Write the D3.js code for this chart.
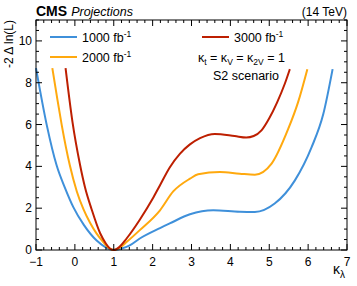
<!DOCTYPE html>
<html>
<head>
<meta charset="utf-8">
<script src="https://cdn.jsdelivr.net/npm/d3@7"></script>
<style>
  body { margin: 0; background: #fff; }
  svg { font-family: "Liberation Sans", Arial, sans-serif; }
</style>
</head>
<body>
<div id="chart"></div>
<script>
// kappa_lambda likelihood scan, HL-LHC projections (S2 scenario)

const kl1000 = [-1.0, -0.72, -0.47, -0.25, -0.04, 0.23, 0.56, 0.8, 1.0, 1.2, 1.41, 1.67, 2.19, 2.44, 2.96, 3.56, 4.24, 4.63, 5.14, 5.66, 6.09, 6.39, 6.63];
const nll1000 = [8.7, 5.95, 4.05, 2.95, 2.05, 1.2, 0.45, 0.12, 0, 0.07, 0.22, 0.55, 1.05, 1.27, 1.71, 1.9, 1.83, 1.82, 2.22, 3.33, 4.92, 6.5, 8.65];

const kl2000 = [-0.58, -0.45, -0.34, -0.13, 0.05, 0.22, 0.39, 0.56, 0.73, 0.87, 1.0, 1.15, 1.33, 1.67, 2.19, 2.53, 2.96, 3.17, 3.73, 4.24, 4.63, 5.06, 5.49, 5.74, 5.98];
const nll2000 = [8.7, 7.2, 6.0, 4.05, 2.8, 1.95, 1.3, 0.78, 0.38, 0.1, 0, 0.1, 0.38, 0.95, 1.9, 2.8, 3.41, 3.62, 3.73, 3.65, 3.6, 4.13, 5.8, 7.06, 8.65];

const kl3000 = [-0.24, -0.06, 0.13, 0.26, 0.43, 0.65, 0.8, 0.9, 1.0, 1.15, 1.33, 1.67, 2.0, 2.19, 2.44, 2.7, 2.96, 3.22, 3.6, 4.11, 4.41, 4.6, 4.8, 5.0, 5.2, 5.4, 5.53];
const nll3000 = [8.7, 6.1, 4.1, 3.0, 1.95, 0.8, 0.3, 0.07, 0, 0.15, 0.55, 1.45, 2.45, 3.1, 3.95, 4.6, 5.05, 5.35, 5.55, 5.45, 5.38, 5.45, 5.72, 6.3, 7.05, 7.95, 8.65];

const seriesNames = ["1000", "2000", "3000"];
const seriesColors = ["#3f90da", "#ffa90e", "#bd1f01"];
const xTicks = [-1, 0, 1, 2, 3, 4, 5, 6, 7];
const yTicks = [0, 2, 4, 6, 8, 10];

const width = 357, height = 286;
const margin = { top: 20, right: 10, bottom: 36, left: 36 };

const series = [
  { name: seriesNames[0], color: seriesColors[0], pts: kl1000.map((k, i) => [k, nll1000[i]]) },
  { name: seriesNames[1], color: seriesColors[1], pts: kl2000.map((k, i) => [k, nll2000[i]]) },
  { name: seriesNames[2], color: seriesColors[2], pts: kl3000.map((k, i) => [k, nll3000[i]]) }
];

const svg = d3.select("#chart").append("svg")
  .attr("width", width)
  .attr("height", height);

const x = d3.scaleLinear().domain([-1, 7]).range([margin.left, width - margin.right]);
const y = d3.scaleLinear().domain([0, 11]).range([height - margin.bottom, margin.top]);

const x0 = x.range()[0], x1 = x.range()[1];
const y0 = y.range()[0], y1 = y.range()[1];

// Curves
const line = d3.line()
  .x(d => x(d[0]))
  .y(d => y(d[1]))
  .curve(d3.curveMonotoneX);

svg.append("g")
  .selectAll("path")
  .data(series)
  .join("path")
  .attr("d", d => line(d.pts))
  .attr("fill", "none")
  .attr("stroke", d => d.color)
  .attr("stroke-width", 2);

// Frame
svg.append("rect")
  .attr("x", x0).attr("y", y1)
  .attr("width", x1 - x0).attr("height", y0 - y1)
  .attr("fill", "none")
  .attr("stroke", "#000")
  .attr("stroke-width", 1);

// Ticks on all four sides, pointing inward (ROOT style)
const tickG = svg.append("g").attr("stroke", "#000").attr("stroke-width", 1);
const xMinor = d3.range(-1, 7.001, 0.2);
const yMinor = d3.range(0, 11.001, 0.5);

xMinor.forEach(v => {
  const major = Math.abs(v - Math.round(v)) < 1e-6;
  const len = major ? 6 : 3;
  tickG.append("line").attr("x1", x(v)).attr("x2", x(v)).attr("y1", y0).attr("y2", y0 - len);
  tickG.append("line").attr("x1", x(v)).attr("x2", x(v)).attr("y1", y1).attr("y2", y1 + len);
});
yMinor.forEach(v => {
  const major = Math.abs(v / 2 - Math.round(v / 2)) < 1e-6;
  const len = major ? 6 : 3;
  tickG.append("line").attr("x1", x0).attr("x2", x0 + len).attr("y1", y(v)).attr("y2", y(v));
  tickG.append("line").attr("x1", x1).attr("x2", x1 - len).attr("y1", y(v)).attr("y2", y(v));
});

// Tick labels
svg.append("g")
  .selectAll("text")
  .data(xTicks)
  .join("text")
  .attr("x", d => x(d))
  .attr("y", y0 + 16)
  .attr("text-anchor", "middle")
  .style("font-size", "12px")
  .text(d => d < 0 ? "\u2212" + Math.abs(d) : d);

svg.append("g")
  .selectAll("text")
  .data(yTicks)
  .join("text")
  .attr("x", x0 - 4)
  .attr("y", d => y(d) + 4)
  .attr("text-anchor", "end")
  .style("font-size", "12px")
  .text(d => d);

// Axis titles
const xl = svg.append("text")
  .attr("x", x1 - 14)
  .attr("y", y0 + 24)
  .style("font-size", "14px");
xl.append("tspan").text("\u03ba");
xl.append("tspan").attr("dy", 4).style("font-size", "10px").text("\u03bb");

svg.append("text")
  .attr("transform", `translate(13, ${y1}) rotate(-90)`)
  .attr("text-anchor", "end")
  .style("font-size", "12px")
  .text("-2 \u0394 ln(L)");

// Header
const hdr = svg.append("text").attr("x", x0).attr("y", 16);
hdr.append("tspan").style("font-weight", "bold").style("font-size", "14px").text("CMS");
hdr.append("tspan").attr("dx", 4).style("font-style", "italic").style("font-size", "12.5px").text("Projections");

svg.append("text")
  .attr("x", x1)
  .attr("y", 16)
  .attr("text-anchor", "end")
  .style("font-size", "12px")
  .text("(14 TeV)");

// Legend
const legendPos = [[50, 37], [50, 57], [202, 37]];
series.forEach((s, i) => {
  const [lx, ly] = legendPos[i];
  svg.append("line")
    .attr("x1", lx).attr("x2", lx + 27)
    .attr("y1", ly).attr("y2", ly)
    .attr("stroke", s.color).attr("stroke-width", 2);
  const t = svg.append("text")
    .attr("x", lx + 32)
    .attr("y", ly + 4.5)
    .style("font-size", "12.5px");
  t.append("tspan").text(s.name + " fb");
  t.append("tspan").attr("dy", -5).style("font-size", "8.5px").text("-1");
});

// Annotation
const ann = svg.append("text")
  .attr("x", 198)
  .attr("y", 62)
  .style("font-size", "12.5px");
ann.append("tspan").text("\u03ba");
ann.append("tspan").attr("dy", 3).style("font-size", "8.5px").text("t");
ann.append("tspan").attr("dy", -3).text(" = \u03ba");
ann.append("tspan").attr("dy", 3).style("font-size", "8.5px").text("V");
ann.append("tspan").attr("dy", -3).text(" = \u03ba");
ann.append("tspan").attr("dy", 3).style("font-size", "8.5px").text("2V");
ann.append("tspan").attr("dy", -3).text(" = 1");

svg.append("text")
  .attr("x", 213)
  .attr("y", 80)
  .style("font-size", "12.5px")
  .text("S2 scenario");
</script>
</body>
</html>
